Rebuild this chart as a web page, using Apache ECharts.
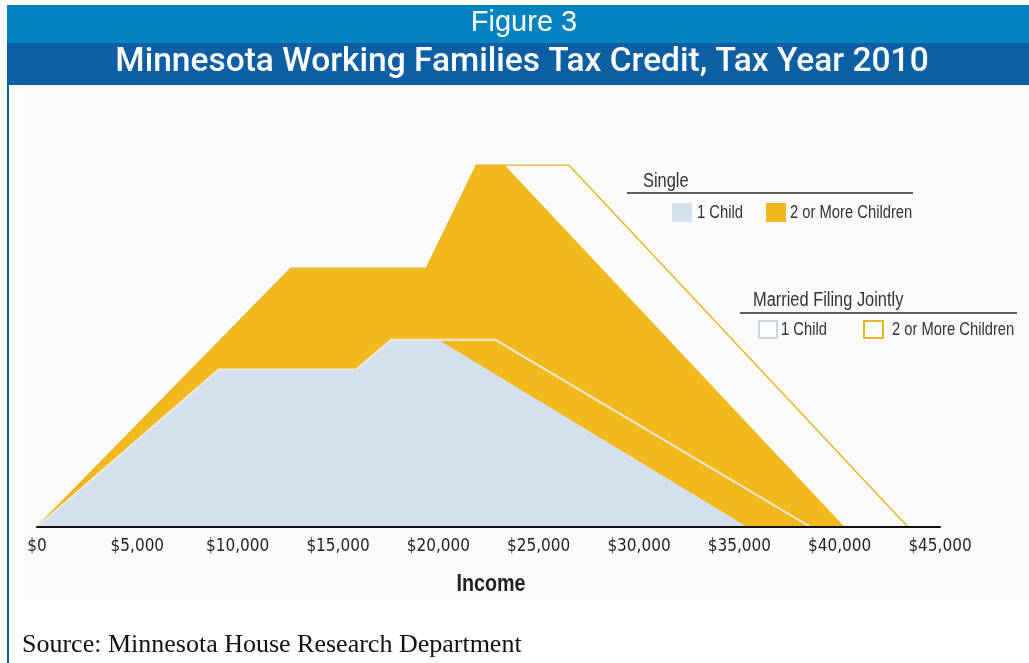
<!DOCTYPE html>
<html>
<head>
<meta charset="utf-8">
<script src="https://cdn.jsdelivr.net/npm/echarts@6/dist/echarts.min.js"></script>
<style>
  html, body { margin: 0; padding: 0; background: #fff; }
  #chart { width: 1029px; height: 663px; }
</style>
</head>
<body>
<div id="chart"></div>
<script>
// income (x) and credit (y) break points for each filing status
const single1Income = [0, 9050, 15900, 17650, 20000, 35400];
const single1Credit = [0, 770, 770, 915, 915, 0];
const single2Income = [0, 12650, 19400, 21900, 23300, 40250];
const single2Credit = [0, 1265, 1265, 1770, 1770, 0];
const married1Income = [0, 9050, 15900, 17650, 20000, 22850, 38550];
const married1Credit = [0, 770, 770, 915, 915, 915, 0];
const married2Income = [0, 12650, 19400, 21900, 23300, 26500, 43400];
const married2Credit = [0, 1265, 1265, 1770, 1770, 1770, 0];
const incomeTicks = [0, 5000, 10000, 15000, 20000, 25000, 30000, 35000, 40000, 45000];

const sans = '"Liberation Sans", Arial, sans-serif';
const yellow = '#f2b91c';
const blue = '#d5e0ee';
const squeeze = 0.82; // Arial -> Arial Narrow width

const pts = (xs, ys) => xs.map((x, i) => [x, ys[i]]);

// narrow text drawn as a graphic, squeezed horizontally around x
const narrowText = (text, x, y, size, opts = {}) => ({
  type: 'text', z: 11, x, y, scaleX: squeeze,
  style: {
    text,
    fill: opts.fill || '#333',
    font: (opts.weight || 'normal') + ' ' + size + 'px ' + sans,
    align: opts.align || 'left',
    verticalAlign: 'middle'
  }
});

const chart = echarts.init(document.getElementById('chart'), null, { renderer: 'canvas' });

chart.setOption({
  animation: false,
  backgroundColor: '#fff',
  grid: { left: 37, right: 89, top: 165, bottom: 136 },
  xAxis: {
    type: 'value',
    min: incomeTicks[0],
    max: incomeTicks[incomeTicks.length - 1],
    interval: 5000,
    z: 5,
    splitLine: { show: false },
    axisTick: { show: false },
    axisLine: { lineStyle: { color: '#111', width: 2 } },
    axisLabel: {
      margin: 11,
      color: '#231f20',
      fontFamily: '"DejaVu Sans"',
      fontWeight: 'condensed',
      fontSize: 17,
      formatter: (v) => '$' + v.toLocaleString('en-US')
    }
  },
  yAxis: {
    type: 'value',
    min: 0,
    max: 1770,
    show: false
  },
  series: [
    {
      name: 'Single 2 or More Children',
      type: 'line',
      data: pts(single2Income, single2Credit),
      symbol: 'none',
      lineStyle: { width: 0 },
      areaStyle: { color: yellow, opacity: 1 },
      z: 1
    },
    {
      name: 'Married 2 or More Children',
      type: 'line',
      data: pts(married2Income, married2Credit),
      symbol: 'none',
      lineStyle: { color: '#e9b52a', width: 1.5 },
      z: 2
    },
    {
      name: 'Single 1 Child',
      type: 'line',
      data: pts(single1Income, single1Credit),
      symbol: 'none',
      lineStyle: { width: 0 },
      areaStyle: { color: blue, opacity: 1 },
      z: 3
    },
    {
      name: 'Married 1 Child',
      type: 'line',
      data: pts(married1Income, married1Credit),
      symbol: 'none',
      lineStyle: { color: '#ece9df', width: 2 },
      z: 4
    }
  ],
  graphic: [
    // chart panel background and frame
    { type: 'rect', z: -10, shape: { x: 22, y: 85, width: 1007, height: 515 }, style: { fill: '#fbfbfb' } },
    { type: 'rect', z: 10, shape: { x: 7, y: 5, width: 1022, height: 38 }, style: { fill: '#0382c0' } },
    { type: 'rect', z: 10, shape: { x: 7, y: 43, width: 1022, height: 42 }, style: { fill: '#0d5ea3' } },
    { type: 'rect', z: 10, shape: { x: 7, y: 85, width: 2, height: 578 }, style: { fill: '#1a63ad' } },
    {
      type: 'text', z: 11, x: 524, y: 23,
      style: { text: 'Figure 3', fill: '#fff', font: '29px ' + sans, align: 'center', verticalAlign: 'middle' }
    },
    {
      type: 'text', z: 11, x: 522, y: 63,
      style: { text: 'Minnesota Working Families Tax Credit, Tax Year 2010', fill: '#fff', font: '500 33.5px Roboto, "Liberation Sans", sans-serif', align: 'center', verticalAlign: 'middle' }
    },
    // axis title
    narrowText('Income', 491, 584, 24, { weight: 'bold', align: 'center', fill: '#231f20' }),
    // legend: Single
    narrowText('Single', 643, 181, 20),
    { type: 'line', z: 11, shape: { x1: 627, y1: 193, x2: 913, y2: 193 }, style: { stroke: '#5c5c5c', lineWidth: 2 } },
    { type: 'rect', z: 11, shape: { x: 672, y: 203, width: 20, height: 19 }, style: { fill: blue } },
    narrowText('1 Child', 697, 213, 18),
    { type: 'rect', z: 11, shape: { x: 766, y: 203, width: 20, height: 19 }, style: { fill: yellow } },
    narrowText('2 or More Children', 790, 213, 18),
    // legend: Married Filing Jointly
    narrowText('Married Filing Jointly', 753, 300, 20),
    { type: 'line', z: 11, shape: { x1: 740, y1: 313, x2: 1017, y2: 313 }, style: { stroke: '#5c5c5c', lineWidth: 2 } },
    { type: 'rect', z: 11, shape: { x: 759, y: 321, width: 18, height: 17 }, style: { fill: '#fff', stroke: '#c9d6ea', lineWidth: 2 } },
    narrowText('1 Child', 781, 330, 18),
    { type: 'rect', z: 11, shape: { x: 864, y: 321, width: 19, height: 17 }, style: { fill: '#fff', stroke: '#ebb62a', lineWidth: 2 } },
    narrowText('2 or More Children', 892, 330, 18),
    // source note
    {
      type: 'text', z: 11, x: 22, y: 645,
      style: { text: 'Source: Minnesota House Research Department', fill: '#111', font: '26px "Liberation Serif", "DejaVu Serif", serif', verticalAlign: 'middle' }
    }
  ]
});
</script>
</body>
</html>
